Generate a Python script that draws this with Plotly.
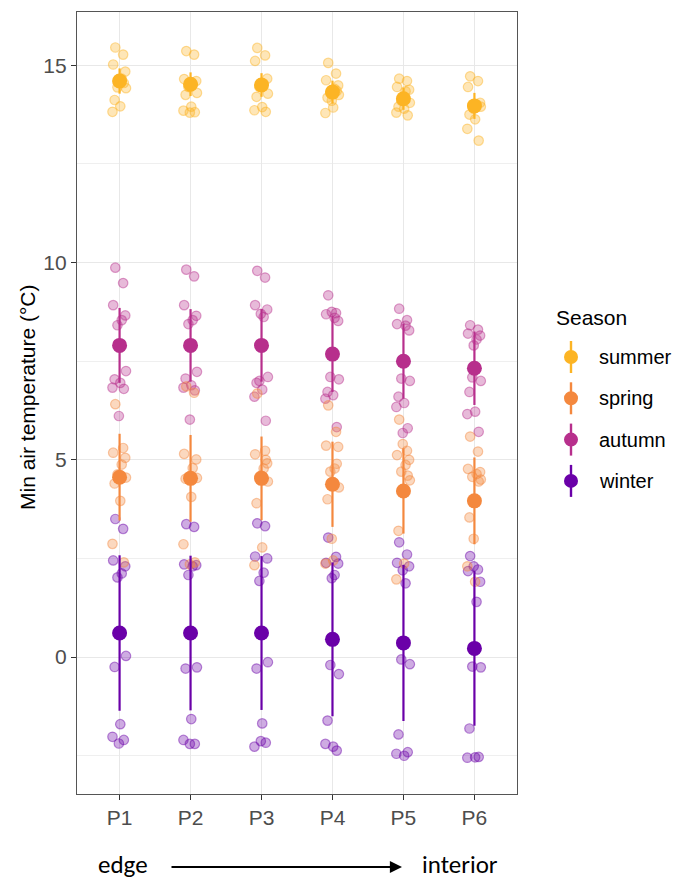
import plotly.graph_objects as go

# ---------------- data ----------------
sites = ["P1", "P2", "P3", "P4", "P5", "P6"]
seasons = ["summer", "spring", "autumn", "winter"]

summer_pts = [
    [15.45, 15.27, 15.02, 14.84, 14.66, 14.44, 14.42, 14.12, 13.96, 13.82, 14.55, 14.6],
    [15.36, 15.27, 14.65, 14.60, 14.52, 14.45, 14.30, 14.25, 13.95, 13.85, 13.81, 13.80],
    [15.44, 15.25, 15.11, 14.66, 14.53, 14.45, 14.28, 14.20, 13.94, 13.86, 13.82, 14.55],
    [15.06, 14.79, 14.62, 14.49, 14.40, 14.30, 14.25, 14.18, 13.93, 13.79, 14.35, 14.10],
    [14.66, 14.60, 14.45, 14.38, 14.34, 14.10, 14.05, 13.95, 13.90, 13.80, 13.73, 14.20],
    [14.72, 14.60, 14.45, 14.05, 14.00, 13.98, 13.95, 13.75, 13.63, 13.39, 13.09, 13.90],
]
spring_pts = [
    [6.41, 5.30, 5.18, 5.05, 4.88, 4.63, 4.55, 4.40, 3.96, 2.87, 2.40],
    [6.86, 6.70, 5.15, 5.01, 4.79, 4.57, 4.54, 4.52, 4.06, 2.86, 2.40, 2.35],
    [6.68, 5.23, 5.14, 4.91, 4.78, 4.57, 4.45, 3.90, 2.78, 2.33, 5.00, 4.60],
    [6.38, 5.71, 5.36, 5.33, 4.78, 4.70, 4.30, 4.00, 2.45, 2.37, 4.90, 3.00],
    [6.02, 5.23, 5.12, 5.00, 4.87, 4.70, 4.48, 3.20, 2.37, 1.97, 4.60, 5.40],
    [5.59, 5.21, 4.77, 4.69, 4.64, 4.57, 4.50, 3.54, 1.91, 2.30, 4.45, 3.00],
]
autumn_pts = [
    [9.87, 9.48, 8.92, 8.66, 8.54, 8.41, 7.25, 7.04, 6.95, 6.83, 6.80, 6.11],
    [9.82, 9.65, 8.92, 8.65, 8.54, 8.44, 7.23, 7.06, 6.89, 6.83, 6.76, 6.02],
    [9.79, 9.62, 8.92, 8.81, 8.62, 7.00, 7.10, 6.95, 6.78, 6.60, 5.99, 8.70],
    [9.17, 8.72, 8.69, 8.52, 8.60, 7.10, 7.04, 6.72, 6.64, 6.55, 5.83, 8.75],
    [8.83, 8.54, 8.44, 8.28, 8.40, 7.06, 7.00, 6.60, 6.44, 6.34, 5.80, 5.68],
    [8.41, 8.30, 8.20, 8.15, 8.05, 7.09, 7.00, 6.72, 6.22, 6.16, 5.71, 7.90],
]
winter_pts = [
    [3.50, 3.25, 2.45, 2.30, 2.12, 2.02, 0.03, -0.25, -1.70, -2.02, -2.10, -2.19],
    [3.37, 3.30, 2.35, 2.33, 2.30, 2.08, -0.26, -0.29, -1.57, -2.10, -2.20, -2.20],
    [3.39, 3.32, 2.55, 2.50, 2.14, 1.93, -0.13, -0.29, -1.68, -2.27, -2.17, -2.13],
    [3.03, 2.54, 2.39, 2.37, 2.08, -0.20, -0.43, -1.61, -2.27, -2.20, -2.37, 2.00],
    [2.91, 2.60, 2.39, 2.30, 1.87, -0.06, -0.18, -1.96, -2.50, -2.45, -2.41, 2.20],
    [2.56, 2.22, 2.18, 1.91, 1.40, -0.24, -0.26, -1.81, -2.54, -2.55, -2.53, 2.30],
]

summer_mean = [14.60, 14.52, 14.50, 14.32, 14.15, 13.97]
spring_mean = [4.56, 4.53, 4.53, 4.38, 4.21, 3.96]
autumn_mean = [7.90, 7.90, 7.90, 7.68, 7.50, 7.32]
winter_mean = [0.61, 0.61, 0.61, 0.45, 0.36, 0.22]

summer_sd = [0.32, 0.30, 0.30, 0.29, 0.28, 0.33]
spring_sd = [1.10, 1.10, 1.06, 1.08, 1.08, 1.10]
autumn_sd = [0.95, 0.92, 0.92, 0.96, 0.95, 0.93]
winter_sd = [1.97, 1.96, 1.95, 1.95, 1.98, 1.96]

# horizontal jitter pattern (category units)
jitter = [-0.06, 0.05, -0.09, 0.08, 0.03, -0.03, 0.09, -0.07, 0.01, -0.1, 0.06, -0.01]

colors = {"summer": (252, 180, 36), "spring": (244, 136, 62),
          "autumn": (183, 47, 140), "winter": (106, 0, 168)}

pts = {"summer": summer_pts, "spring": spring_pts, "autumn": autumn_pts, "winter": winter_pts}
means = {"summer": summer_mean, "spring": spring_mean, "autumn": autumn_mean, "winter": winter_mean}
sds = {"summer": summer_sd, "spring": spring_sd, "autumn": autumn_sd, "winter": winter_sd}


def rgba(c, a):
    return f"rgba({c[0]},{c[1]},{c[2]},{a})"


fig = go.Figure()

# raw jittered points
for s in ["winter", "autumn", "spring", "summer"]:
    xs, ys = [], []
    for i, vals in enumerate(pts[s]):
        for j, v in enumerate(vals):
            xs.append(i + jitter[j % len(jitter)])
            ys.append(v)
    c = colors[s]
    fig.add_trace(go.Scatter(
        x=xs, y=ys, mode="markers", showlegend=False, hoverinfo="skip",
        marker=dict(size=9.5, color=rgba(c, 0.33), line=dict(width=1.2, color=rgba(c, 0.45)))))

# mean +/- sd pointranges
for s in ["winter", "autumn", "spring", "summer"]:
    c = colors[s]
    fig.add_trace(go.Scatter(
        x=list(range(len(sites))), y=means[s], mode="markers", name=s, showlegend=False,
        marker=dict(size=15, color=rgba(c, 1), line=dict(width=0)),
        error_y=dict(type="data", array=sds[s], visible=True, width=0,
                     thickness=2.2, color=rgba(c, 1))))

# ---------------- layout geometry ----------------
W, H = 683, 881
L, R, T, B = 77, 517, 12, 794


def px_x(x):
    return (x - L) / (R - L)


def px_y(y):
    return (B - y) / (B - T)


shapes = []
annotations = []

# manual legend (pointrange keys)
annotations.append(dict(x=px_x(554), y=px_y(317), xref="paper", yref="paper",
                        text="Season", showarrow=False, xanchor="left", yanchor="middle",
                        font=dict(size=21, color="black")))
for k, s in enumerate(seasons):
    yc = 357 + 41.3 * k
    c = rgba(colors[s], 1)
    shapes.append(dict(type="line", xref="paper", yref="paper",
                       x0=px_x(571), x1=px_x(571), y0=px_y(yc - 16), y1=px_y(yc + 16),
                       line=dict(color=c, width=2.4)))
    shapes.append(dict(type="circle", xref="paper", yref="paper",
                       xsizemode="pixel", ysizemode="pixel",
                       xanchor=px_x(571), yanchor=px_y(yc),
                       x0=-7, x1=7, y0=-7, y1=7, fillcolor=c, line=dict(width=0)))
    annotations.append(dict(x=px_x(597), y=px_y(yc), xref="paper", yref="paper",
                            text=s, showarrow=False, xanchor="left", yanchor="middle",
                            font=dict(size=20, color="black")))

# edge -> interior
annotations.append(dict(x=px_x(123), y=px_y(864), xref="paper", yref="paper",
                        text="edge", showarrow=False, xanchor="center", yanchor="middle",
                        font=dict(size=25, color="black", family="Carlito, Liberation Sans, Arial")))
annotations.append(dict(x=px_x(460), y=px_y(864), xref="paper", yref="paper",
                        text="interior", showarrow=False, xanchor="center", yanchor="middle",
                        font=dict(size=25, color="black", family="Carlito, Liberation Sans, Arial")))
annotations.append(dict(x=px_x(402), y=px_y(867), xref="paper", yref="paper",
                        ax=-232, ay=0, axref="pixel", ayref="pixel", text="",
                        showarrow=True, arrowhead=2, arrowsize=1.1, arrowwidth=2.2,
                        arrowcolor="black"))

# y axis title
annotations.append(dict(x=px_x(28), y=px_y(398), xref="paper", yref="paper",
                        text="Min air temperature (°C)", showarrow=False, textangle=-90,
                        xanchor="center", yanchor="middle", font=dict(size=21, color="black")))

fig.update_layout(
    width=W, height=H,
    margin=dict(l=L, r=W - R, t=T, b=H - B, autoexpand=False),
    paper_bgcolor="white", plot_bgcolor="white",
    font=dict(family="Liberation Sans, Arial, sans-serif"),
    showlegend=False,
    shapes=shapes, annotations=annotations,
    xaxis=dict(range=[-0.6, 5.6], tickmode="array", tickvals=list(range(len(sites))),
               ticktext=sites, showgrid=True, gridcolor="#E8E8E8", gridwidth=1.4,
               zeroline=False, showline=True, linecolor="#555555", linewidth=1.3, mirror=True,
               ticks="outside", ticklen=5, tickwidth=1.2, tickcolor="#333333",
               tickfont=dict(size=21, color="#4D4D4D")),
    yaxis=dict(range=[-3.47, 16.35], tickmode="array", tickvals=[0, 5, 10, 15],
               showgrid=True, gridcolor="#E8E8E8", gridwidth=1.4,
               minor=dict(tickmode="array", tickvals=[-2.5, 2.5, 7.5, 12.5], showgrid=True,
                          gridcolor="#EFEFEF", gridwidth=0.9, ticks=""),
               zeroline=False, showline=True, linecolor="#555555", linewidth=1.3, mirror=True,
               ticks="outside", ticklen=5, tickwidth=1.2, tickcolor="#333333",
               tickfont=dict(size=21, color="#4D4D4D")),
)

fig.write_html("out.html")
